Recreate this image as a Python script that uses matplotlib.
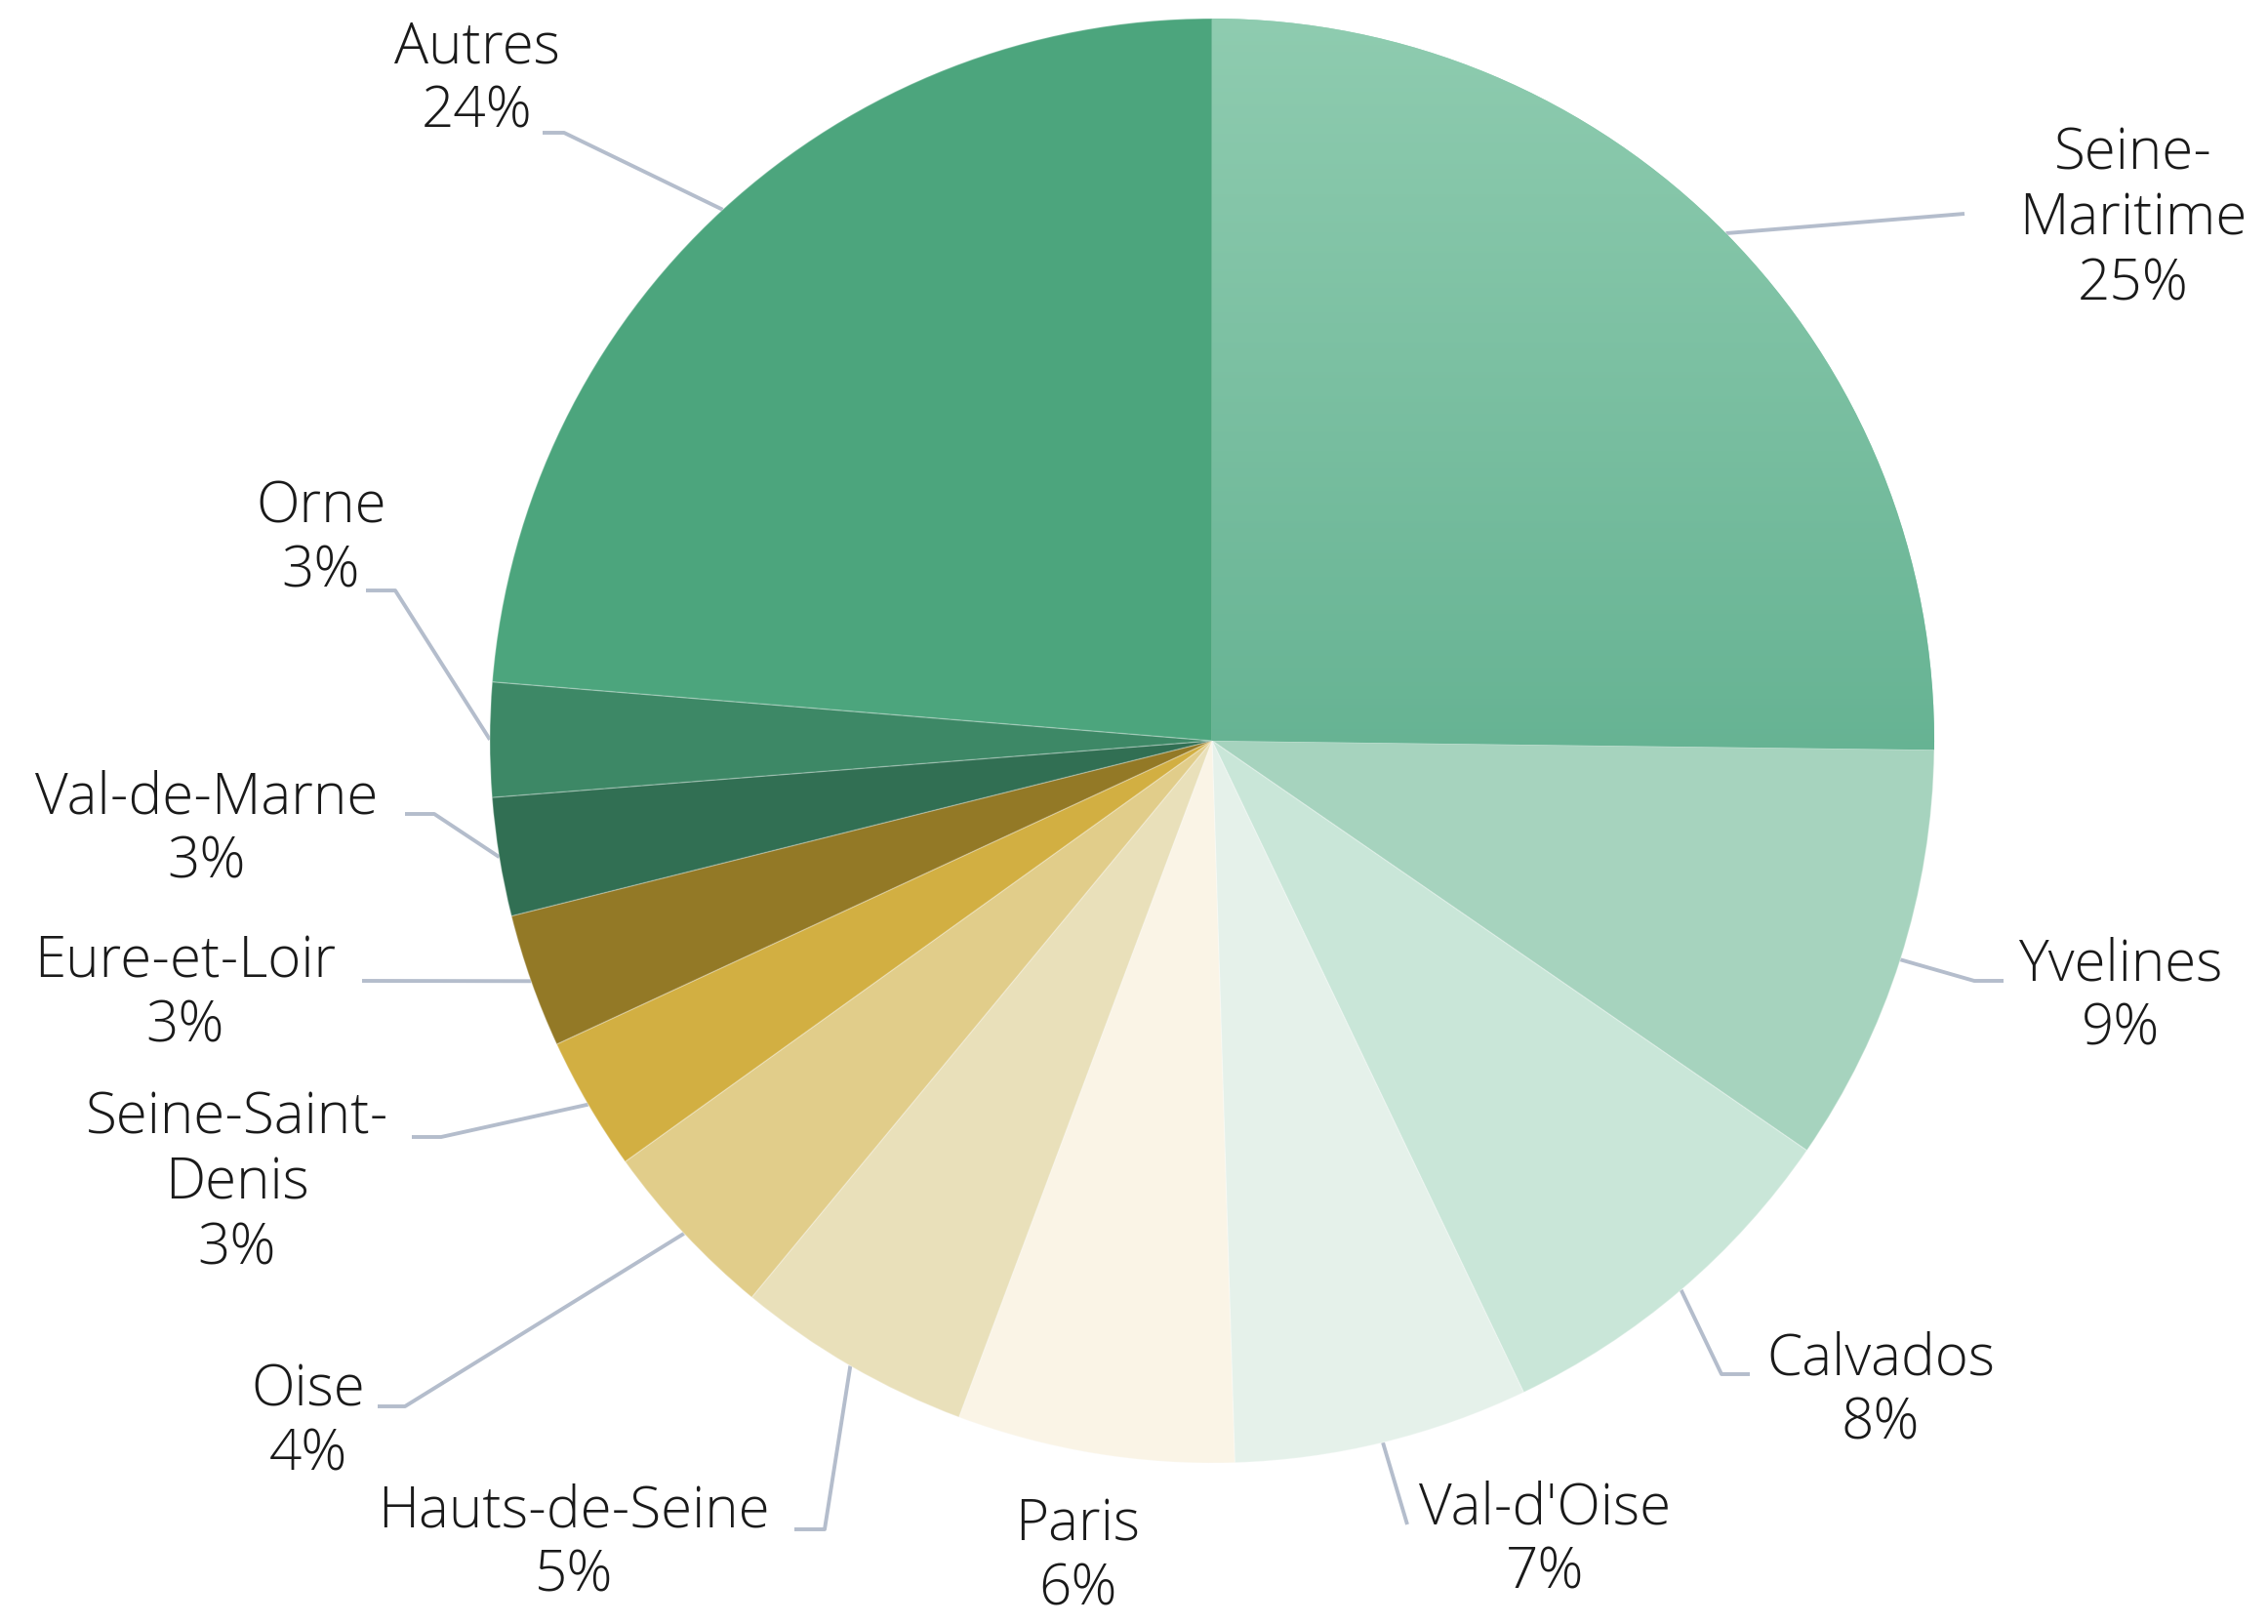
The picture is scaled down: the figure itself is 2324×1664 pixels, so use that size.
import numpy as np
import matplotlib
matplotlib.use("Agg")
import matplotlib.pyplot as plt
from matplotlib.colors import LinearSegmentedColormap

# data
departements = ["Seine-\nMaritime", "Yvelines", "Calvados", "Val-d'Oise", "Paris",
                "Hauts-de-Seine", "Oise", "Seine-Saint-\nDenis", "Eure-et-Loir",
                "Val-de-Marne", "Orne", "Autres"]
parts = [25.2, 9.4, 8.3, 6.6, 6.2, 5.3, 4.1, 3.0, 3.0, 2.65, 2.55, 23.7]
couleurs = ["#7AC4A4", "#A6D3BE", "#C9E6D8", "#E5F1EA", "#FAF4E6", "#E9E0BA",
            "#E1CD8A", "#D2AF42", "#937926", "#316F53", "#3D8866", "#4CA57D"]

W, H = 2324, 1664
cx, cy, R = 1242, H - 759, 740

# label layout (pixel coords, y measured from top)
label_xy = [(2186, 225), (2173, 1022), (1927, 1426), (1583, 1579), (1104, 1596),
            (588, 1582), (316, 1458), (243, 1213), (190, 1019), (212, 851),
            (329, 553), (489, 82)]
elbows = [None, (2023, 1005), (1764, 1408), (1442, 1562), None,
          (845, 1567), (415, 1441), (452, 1165), None, (445, 834),
          (405, 605), (578, 136)]
ends = [(2013, 219), (2053, 1005), (1793, 1408), (1442, 1562), None,
        (814, 1567), (387, 1441), (422, 1165), (371, 1005), (415, 834),
        (375, 605), (556, 136)]

plt.rcParams['font.family'] = ['Open Sans', 'DejaVu Sans']

fig = plt.figure(figsize=(W / 100, H / 100), dpi=100)
ax = fig.add_axes([0, 0, 1, 1])

wedges, _ = ax.pie(parts, colors=couleurs, startangle=90, counterclock=False,
                   center=(cx, cy), radius=R,
                   wedgeprops=dict(linewidth=1.0, edgecolor=(1, 1, 1, 0.25)))

# vertical gradient on the first slice
grad = LinearSegmentedColormap.from_list("g", ["#66B393", "#8FCCB0"])
im = ax.imshow(np.linspace(0, 1, 256).reshape(-1, 1), cmap=grad, origin='lower',
               extent=[cx - 5, cx + R + 5, cy - 20, cy + R + 5], aspect='auto', zorder=1.5)
im.set_clip_path(wedges[0])

line_col = "#B4BDCC"
for i, w in enumerate(wedges):
    ang = np.deg2rad((w.theta1 + w.theta2) / 2)
    x0, y0 = cx + R * np.cos(ang), cy + R * np.sin(ang)
    if ends[i] is not None:
        pts = [(x0, y0)]
        if elbows[i] is not None:
            pts.append((elbows[i][0], H - elbows[i][1]))
        pts.append((ends[i][0], H - ends[i][1]))
        xs, ys = zip(*pts)
        ax.plot(xs, ys, color=line_col, lw=2.8, solid_capstyle='butt', zorder=0.5)
    lx, ly = label_xy[i]
    ax.text(lx, H - ly, f"{departements[i]}\n{parts[i]:.0f}%", ha='center', va='center',
            fontsize=42, color="#1a1a1a", linespacing=1.17, fontweight='light')

ax.set_xlim(0, W)
ax.set_ylim(0, H)
ax.set_aspect('equal')
ax.axis('off')

fig.savefig("out.png", dpi=100, facecolor='white')
